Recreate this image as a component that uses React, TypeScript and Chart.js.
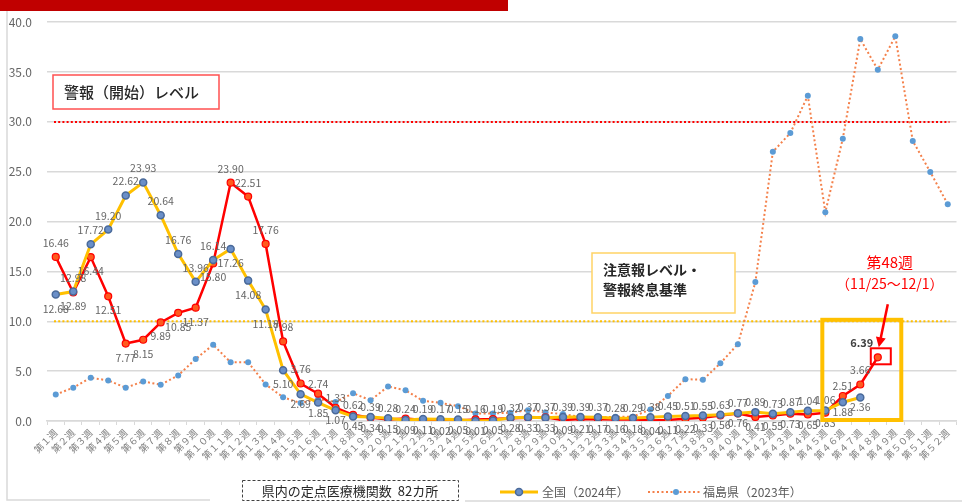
import React, { useEffect, useRef } from "react";
import { Chart, registerables } from "chart.js";

Chart.register(...registerables);

const FONT = '"Noto Sans CJK JP", "Noto Sans", sans-serif';

const weekLabels = [
  "第１週", "第２週", "第３週", "第４週", "第５週", "第６週", "第７週", "第８週", "第９週", "第１０週",
  "第１１週", "第１２週", "第１３週", "第１４週", "第１５週", "第１６週", "第１７週", "第１８週", "第１９週", "第２０週",
  "第２１週", "第２２週", "第２３週", "第２４週", "第２５週", "第２６週", "第２７週", "第２８週", "第２９週", "第３０週",
  "第３１週", "第３２週", "第３３週", "第３４週", "第３５週", "第３６週", "第３７週", "第３８週", "第３９週", "第４０週",
  "第４１週", "第４２週", "第４３週", "第４４週", "第４５週", "第４６週", "第４７週", "第４８週", "第４９週", "第５０週",
  "第５１週", "第５２週",
];

// 全国（2024年）
const national2024 = [
  12.68, 12.98, 17.72, 19.2, 22.62, 23.93, 20.64, 16.76, 13.96, 16.14,
  17.26, 14.08, 11.18, 5.1, 2.69, 1.85, 1.07, 0.45, 0.39, 0.28,
  0.09, 0.19, 0.17, 0.15, 0.01, 0.05, 0.32, 0.37, 0.33, 0.39,
  0.39, 0.37, 0.28, 0.29, 0.38, 0.45, 0.51, 0.55, 0.63, 0.77,
  0.89, 0.73, 0.87, 1.04, 1.06, 1.88, 2.36,
];

// 福島県（2024年）
const fukushima2024 = [
  16.46, 12.89, 16.44, 12.51, 7.77, 8.15, 9.89, 10.85, 11.37, 15.8,
  23.9, 22.51, 17.76, 7.98, 3.76, 2.74, 1.33, 0.62, 0.34, 0.15,
  0.24, 0.11, 0.02, 0.05, 0.16, 0.19, 0.28, 0.33, 0.37, 0.09,
  0.21, 0.17, 0.16, 0.18, 0.04, 0.11, 0.22, 0.33, 0.56, 0.76,
  0.41, 0.55, 0.73, 0.65, 0.83, 2.51, 3.66, 6.39,
];

// 福島県（2023年）
const fukushima2023 = [
  2.65, 3.34, 4.34, 4.07, 3.34, 3.97, 3.64, 4.57, 6.22, 7.64,
  5.89, 5.89, 3.67, 2.38, 1.8, 2.2, 1.9, 2.78, 2.08, 3.47,
  3.08, 2.02, 1.82, 1.49, 0.76, 0.76, 0.83, 1.09, 0.86, 0.69,
  0.43, 0.36, 0.43, 0.43, 1.16, 2.51, 4.2, 4.13, 5.79, 7.71,
  13.93, 27.0, 28.88, 32.62, 20.94, 28.32, 38.31, 35.24, 38.58, 28.09,
  24.98, 21.74,
];

const yMin = 0;
const yMax = 40;
const yStep = 5;
const warningLevel = 30;
const advisoryLevel = 10;
const highlightIndex = 47; // 第48週
const highlightStart = 44; // 第45週
const highlightEnd = 48; // 第49週

const warningText = "警報（開始）レベル";
const advisoryText = ["注意報レベル・", "警報終息基準"];
const weekNoteTitle = "第48週";
const weekNoteDates = "（11/25〜12/1）";
const sentinelText = "県内の定点医療機関数  82カ所";
const legendNational = "全国（2024年）";
const legendFukushima2023 = "福島県（2023年）";

const YELLOW = "#FFC000";
const RED = "#FF0000";
const DOT_ORANGE = "#F4804A";
const BLUE = "#5B9BD5";

const overlayPlugin = {
  id: "overlay",
  beforeDatasetsDraw(chart: any) {
    const { ctx, chartArea, scales } = chart;
    const y = scales.y;
    ctx.save();
    const drawLevel = (v: number, color: string) => {
      const py = y.getPixelForValue(v);
      ctx.beginPath();
      ctx.strokeStyle = color;
      ctx.lineWidth = 2;
      ctx.setLineDash([2, 2.2]);
      ctx.moveTo(chartArea.left + 7, py);
      ctx.lineTo(chartArea.right - 7, py);
      ctx.stroke();
    };
    drawLevel(warningLevel, RED);
    drawLevel(advisoryLevel, YELLOW);
    ctx.setLineDash([]);

    ctx.fillStyle = "#fff";
    ctx.fillRect(53, 75, 166, 34);
    ctx.strokeStyle = "#FF5050";
    ctx.lineWidth = 1.5;
    ctx.strokeRect(53, 75, 166, 34);
    ctx.fillStyle = "#262626";
    ctx.font = `500 15px ${FONT}`;
    ctx.textAlign = "left";
    ctx.textBaseline = "middle";
    ctx.fillText(warningText, 64, 92);

    ctx.fillStyle = "#fff";
    ctx.fillRect(592, 253, 143, 60);
    ctx.strokeStyle = "#FFD366";
    ctx.lineWidth = 1.5;
    ctx.strokeRect(592, 253, 143, 60);
    ctx.fillStyle = "#262626";
    ctx.font = `bold 14px ${FONT}`;
    ctx.fillText(advisoryText[0], 603, 270);
    ctx.fillText(advisoryText[1], 603, 290);
    ctx.restore();
  },
  afterDatasetsDraw(chart: any) {
    const { ctx, scales } = chart;
    const x = scales.x;
    const y = scales.y;
    ctx.save();

    const series = [
      { data: national2024, other: fukushima2024 },
      { data: fukushima2024, other: national2024 },
    ];
    ctx.textAlign = "center";
    ctx.textBaseline = "middle";
    series.forEach((s, si) => {
      s.data.forEach((v, i) => {
        if (v == null) return;
        const px = x.getPixelForValue(i);
        const py = y.getPixelForValue(v);
        const o = s.other[i];
        const above = o == null || v > o || (v === o && si === 0);
        const txt = v.toFixed(2);
        if (si === 1 && i === highlightIndex) {
          ctx.font = `bold 11px ${FONT}`;
          ctx.fillStyle = "#404040";
          ctx.fillText(txt, px - 16, py - 14);
          return;
        }
        const gap = v >= 3 ? 14 : 10;
        ctx.font = `10.5px ${FONT}`;
        ctx.fillStyle = "#666666";
        ctx.fillText(txt, px, py + (above ? -gap : gap));
      });
    });

    const bx1 = x.getPixelForValue(highlightStart) - 3;
    const bx2 = x.getPixelForValue(highlightEnd) + 6;
    const by1 = y.getPixelForValue(10.15);
    const by2 = y.getPixelForValue(0.1);
    ctx.strokeStyle = YELLOW;
    ctx.lineWidth = 4;
    ctx.strokeRect(bx1, by1, bx2 - bx1, by2 - by1);

    const hx = x.getPixelForValue(highlightIndex);
    const hy = y.getPixelForValue(fukushima2024[highlightIndex]);
    ctx.strokeStyle = RED;
    ctx.lineWidth = 2;
    ctx.strokeRect(hx - 7, hy - 9, 20, 16);

    const tailX = hx + 10;
    const tailY = hy - 53;
    const tipX = hx + 1;
    const tipY = hy - 10;
    const ang = Math.atan2(tipY - tailY, tipX - tailX);
    ctx.beginPath();
    ctx.lineWidth = 2.5;
    ctx.moveTo(tailX, tailY);
    ctx.lineTo(tipX - Math.cos(ang) * 7, tipY - Math.sin(ang) * 7);
    ctx.stroke();
    ctx.beginPath();
    ctx.fillStyle = RED;
    ctx.moveTo(tipX, tipY);
    ctx.lineTo(tipX - Math.cos(ang) * 10 + Math.sin(ang) * 5, tipY - Math.sin(ang) * 10 - Math.cos(ang) * 5);
    ctx.lineTo(tipX - Math.cos(ang) * 10 - Math.sin(ang) * 5, tipY - Math.sin(ang) * 10 + Math.cos(ang) * 5);
    ctx.closePath();
    ctx.fill();

    ctx.fillStyle = RED;
    ctx.textAlign = "center";
    ctx.font = `15px ${FONT}`;
    ctx.fillText(weekNoteTitle, hx + 12, 262);
    ctx.font = `14px ${FONT}`;
    ctx.fillText(weekNoteDates, hx + 12, 284);

    ctx.textAlign = "left";
    ctx.textBaseline = "middle";
    const ly = 492;
    ctx.beginPath();
    ctx.strokeStyle = YELLOW;
    ctx.lineWidth = 3;
    ctx.moveTo(500, ly);
    ctx.lineTo(538, ly);
    ctx.stroke();
    ctx.beginPath();
    ctx.fillStyle = "#6A8FC8";
    ctx.strokeStyle = "#4A6A9A";
    ctx.lineWidth = 1.5;
    ctx.arc(519, ly, 3.5, 0, Math.PI * 2);
    ctx.fill();
    ctx.stroke();
    ctx.fillStyle = "#595959";
    ctx.font = `12px ${FONT}`;
    ctx.fillText(legendNational, 542, ly);

    ctx.beginPath();
    ctx.strokeStyle = DOT_ORANGE;
    ctx.lineWidth = 2;
    ctx.setLineDash([2, 2.5]);
    ctx.moveTo(648, ly);
    ctx.lineTo(700, ly);
    ctx.stroke();
    ctx.setLineDash([]);
    ctx.beginPath();
    ctx.fillStyle = BLUE;
    ctx.arc(676, ly, 3, 0, Math.PI * 2);
    ctx.fill();
    ctx.fillStyle = "#595959";
    ctx.fillText(legendFukushima2023, 703, ly);

    ctx.strokeStyle = "#D9D9D9";
    ctx.lineWidth = 1.5;
    ctx.beginPath();
    ctx.moveTo(7, 11);
    ctx.lineTo(7, 500);
    ctx.lineTo(210, 500);
    ctx.moveTo(465, 501);
    ctx.lineTo(962, 501);
    ctx.stroke();

    ctx.fillStyle = "#fff";
    ctx.fillRect(242, 480, 216, 21);
    ctx.strokeStyle = "#404040";
    ctx.lineWidth = 1;
    ctx.setLineDash([3, 2]);
    ctx.strokeRect(242.5, 480.5, 216, 20);
    ctx.setLineDash([]);
    ctx.fillStyle = "#262626";
    ctx.font = `13px ${FONT}`;
    ctx.textAlign = "center";
    ctx.fillText(sentinelText, 350, 491);

    ctx.fillStyle = "#C00000";
    ctx.fillRect(0, 0, 508, 11);
    ctx.restore();
  },
};

export default function App() {
  const ref = useRef<HTMLCanvasElement | null>(null);

  useEffect(() => {
    document.body.style.margin = "0";
    const canvas = ref.current;
    if (!canvas) return;
    const chart = new Chart(canvas, {
      type: "line",
      data: {
        labels: weekLabels,
        datasets: [
          {
            label: legendNational,
            data: national2024,
            borderColor: YELLOW,
            borderWidth: 3,
            pointRadius: 3.5,
            pointBackgroundColor: "#6A8FC8",
            pointBorderColor: "#4A6A9A",
            pointBorderWidth: 1.5,
            tension: 0,
          },
          {
            label: "福島県（2024年）",
            data: fukushima2024,
            borderColor: RED,
            borderWidth: 2.5,
            pointRadius: 3.5,
            pointBackgroundColor: "#FF5A1E",
            pointBorderColor: RED,
            pointBorderWidth: 1.2,
            tension: 0,
          },
          {
            label: legendFukushima2023,
            data: fukushima2023,
            borderColor: DOT_ORANGE,
            borderWidth: 2,
            borderDash: [2, 2.5],
            pointRadius: 3,
            pointBackgroundColor: BLUE,
            pointBorderWidth: 0,
            pointBorderColor: BLUE,
            tension: 0,
          },
        ],
      },
      options: {
        animation: false,
        responsive: false,
        maintainAspectRatio: false,
        layout: { padding: { top: 11, right: 0, left: 0, bottom: 0 } },
        plugins: {
          legend: { display: false },
          tooltip: { enabled: false },
        },
        scales: {
          x: {
            offset: true,
            grid: {
              offset: true,
              drawOnChartArea: false,
              drawTicks: true,
              tickLength: 4,
              color: "#D9D9D9",
            },
            border: { display: true, color: "#D9D9D9", width: 1.5 },
            ticks: {
              autoSkip: false,
              minRotation: 45,
              maxRotation: 45,
              padding: 2,
              color: "#7F7F7F",
              font: { family: FONT, size: 9.5 },
            },
            afterFit: (scale: any) => {
              scale.height = 83;
            },
          },
          y: {
            min: yMin,
            max: yMax,
            ticks: {
              stepSize: yStep,
              padding: 15,
              color: "#666666",
              font: { family: FONT, size: 12 },
              callback: (v: any) => Number(v).toFixed(1),
            },
            grid: { color: "#D9D9D9", lineWidth: 1.5, drawTicks: false },
            border: { display: false },
            afterFit: (scale: any) => {
              scale.width = 47;
            },
          },
        },
      },
      plugins: [overlayPlugin],
    });
    return () => chart.destroy();
  }, []);

  return (
    <div style={{ width: 962, height: 504, position: "relative", background: "#fff" }}>
      <canvas ref={ref} width={962} height={504} style={{ display: "block", width: 962, height: 504 }} />
    </div>
  );
}
